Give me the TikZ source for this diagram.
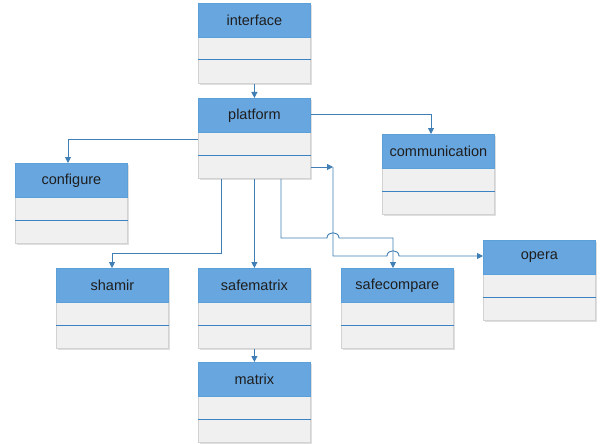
\documentclass[tikz,border=0pt]{standalone}
\usepackage{fontspec}
\setmainfont{Liberation Sans}
\usetikzlibrary{arrows.meta,shadows}
\definecolor{hdrfill}{HTML}{68A6DF}
\definecolor{hdrline}{HTML}{5CA0DA}
\definecolor{compfill}{HTML}{F0F0F0}
\definecolor{compline}{HTML}{D2D2D2}
\definecolor{divline}{HTML}{3A82C2}
\definecolor{conn}{HTML}{3F7FB5}
\definecolor{txt}{HTML}{1E1E1E}
\tikzset{
  classbox/.style={draw=compline, fill=compfill, line width=0.8pt, minimum width=112pt, minimum height=80pt, inner sep=0pt, anchor=north west,
    drop shadow={shadow xshift=1.2pt, shadow yshift=-1.2pt, opacity=0.25}},
  hdrbox/.style={draw=hdrline, fill=hdrfill, line width=0.8pt, minimum width=112pt, minimum height=34pt, inner sep=0pt, anchor=north,
    text=txt, font=\fontsize{14.5}{17}\selectfont},
  divl/.style={draw=divline, line width=1pt},
  link/.style={draw=conn, line width=0.9pt, -{Triangle[length=6pt,width=6pt]}},
  plain/.style={draw=conn, line width=0.9pt}
}
\newcommand{\umlbox}[4]{%
  \node[classbox] (#1) at (#2,#3) {};
  \node[hdrbox] (#1-h) at (#1.north) {#4};
  \draw[divl] ([yshift=-57pt]#1.north west) -- ([yshift=-57pt]#1.north east);
}
\begin{document}
\begin{tikzpicture}[x=1pt,y=-1pt]
\useasboundingbox (0,0) rectangle (600,444);
\fill[white] (0,0) rectangle (600,444);

\umlbox{interface}{198}{3}{interface}
\umlbox{platform}{198}{98}{platform}
\umlbox{configure}{15}{163}{configure}
\umlbox{communication}{382}{134}{communication}
\umlbox{shamir}{56}{268}{shamir}
\umlbox{safematrix}{198}{268}{safematrix}
\umlbox{safecompare}{341}{268}{safecompare}
\umlbox{opera}{483}{240}{opera}
\umlbox{matrix}{198}{362}{matrix}

% bend coordinates
\coordinate (cfgx) at (68,139);
\coordinate (comx) at (431,114);
\coordinate (shx) at (221,253);
\coordinate (shy) at (112,253);
\coordinate (scx) at (281,238);
\coordinate (scy) at (393,238);
\coordinate (opa) at (333,167);
\coordinate (opb) at (333,256);

% interface -> platform
\draw[link] (interface.south) -- (platform.north);
% platform -> configure
\draw[link] (cfgx -| platform.west) -- (cfgx) -- (cfgx |- configure.north);
% platform -> communication
\draw[link] (comx -| platform.east) -- (comx) -- (comx |- communication.north);
% platform -> shamir
\draw[link] (shx |- platform.south) -- (shx) -- (shy) -- (shy |- shamir.north);
% platform -> safematrix
\draw[link] (platform.south) -- (safematrix.north);
% platform -> safecompare (with jump over x=333)
\draw[link] (scx |- platform.south) -- (scx) -- (327,238) .. controls (327,231) and (339,231) .. (339,238) -- (scy) -- (scy |- safecompare.north);
% platform -> opera (arrow at corner, jump over x=393)
\draw[link] (opa -| platform.east) -- (opa);
\draw[link] (opa) -- (opb) -- (387,256) .. controls (387,249) and (399,249) .. (399,256) -- (opb -| opera.west);
% safematrix -> matrix
\draw[link] (safematrix.south) -- (matrix.north);
\end{tikzpicture}
\end{document}
